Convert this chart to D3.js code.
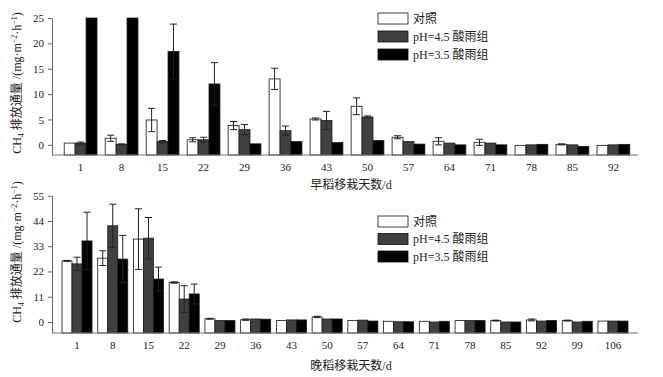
<!DOCTYPE html>
<html>
<head>
<meta charset="utf-8">
<script src="https://cdn.jsdelivr.net/npm/d3@7"></script>
<style>
  body { margin: 0; background: #fff; }
  text { font-family: "Liberation Serif", "Noto Sans CJK SC", serif; }
</style>
</head>
<body>
<div id="chart"></div>
<script>
// series names
const seriesNames = ["对照", "pH=4.5 酸雨组", "pH=3.5 酸雨组"];
const seriesFills = ["#ffffff", "#404040", "#000000"];

// early rice (top panel)
const earlyDays = ["1", "8", "15", "22", "29", "36", "43", "50", "57", "64", "71", "78", "85", "92"];
const earlyControl = [0.35, 1.3, 4.9, 1.0, 3.8, 13.0, 5.1, 7.6, 1.5, 0.7, 0.5, -0.1, 0.1, -0.1];
const earlyPh45 = [0.35, 0.1, 0.65, 1.0, 3.0, 2.8, 4.8, 5.5, 0.65, 0.35, 0.35, 0, 0, 0];
const earlyPh35 = [25, 25, 18.4, 12.0, 0.2, 0.65, 0.45, 0.85, 0.15, 0, 0, 0.1, -0.3, 0.1];
const earlyControlErr = [0, 0.6, 2.3, 0.4, 0.8, 2.1, 0.2, 1.65, 0.3, 0.7, 0.6, 0, 0.1, 0];
const earlyPh45Err = [0.2, 0.1, 0.2, 0.5, 1.0, 0.9, 1.8, 0.2, 0, 0, 0, 0, 0, 0];
const earlyPh35Err = [0, 0, 5.4, 4.2, 0, 0, 0, 0, 0, 0, 0, 0, 0, 0];
const earlyTicks = [0, 5, 10, 15, 20, 25];

// late rice (bottom panel)
const lateDays = ["1", "8", "15", "22", "29", "36", "43", "50", "57", "64", "71", "78", "85", "92", "99", "106"];
const lateControl = [26.6, 27.8, 36.1, 17.2, 1.4, 1.0, 0.6, 2.2, 0.7, 0.3, 0.3, 0.6, 0.6, 0.9, 0.6, 0.4];
const latePh45 = [25.3, 41.9, 36.5, 10.0, 0.6, 1.3, 0.9, 1.3, 0.8, 0.1, 0.0, 0.6, 0.0, 0.4, 0.0, 0.4];
const latePh35 = [35.3, 27.4, 18.7, 12.2, 0.6, 1.2, 0.9, 1.3, 0.4, 0.1, 0.3, 0.6, 0.0, 0.6, 0.3, 0.4];
const lateControlErr = [0.2, 3.2, 13.2, 0.3, 0.2, 0.3, 0, 0.3, 0, 0, 0, 0, 0.2, 0.4, 0.2, 0];
const latePh45Err = [2.9, 9.4, 9.0, 5.8, 0, 0, 0, 0, 0, 0, 0, 0, 0, 0, 0, 0];
const latePh35Err = [12.5, 10.3, 5.2, 4.3, 0, 0, 0, 0, 0, 0, 0, 0, 0, 0, 0, 0];
const lateTicks = [0, 11, 22, 33, 44, 55];

const svg = d3.select("#chart").append("svg")
    .attr("width", 663)
    .attr("height", 377);

function drawPanel(opts) {
    const g = svg.append("g");
    const keys = [0, 1, 2];
    const x = d3.scaleBand()
        .domain(opts.days)
        .range(opts.xRange)
        .paddingInner(opts.padIn)
        .paddingOuter(opts.padOut);
    const xSub = d3.scaleBand()
        .domain(keys)
        .range([0, x.bandwidth()]);
    const y = d3.scaleLinear()
        .domain(opts.yDomain)
        .range(opts.yRange);
    const base = y(opts.yDomain[0]);

    const rows = opts.days.map((d, i) => ({
        day: d,
        items: keys.map(k => ({ k: k, v: opts.values[k][i], e: opts.errors[k][i] }))
    }));

    const group = g.selectAll(".grp")
        .data(rows)
        .join("g")
        .attr("transform", d => `translate(${x(d.day)},0)`);

    group.selectAll("rect")
        .data(d => d.items)
        .join("rect")
        .attr("x", d => xSub(d.k))
        .attr("y", d => y(d.v))
        .attr("width", xSub.bandwidth())
        .attr("height", d => base - y(d.v))
        .attr("fill", d => seriesFills[d.k])
        .attr("stroke", d => d.k === 0 ? "#111" : "#1a1a1a")
        .attr("stroke-width", 0.8);

    // error bars
    const err = group.selectAll(".err")
        .data(d => d.items.filter(it => it.e > 0))
        .join("g")
        .attr("class", "err")
        .attr("stroke", "#222")
        .attr("stroke-width", 1);
    err.append("line")
        .attr("x1", d => xSub(d.k) + xSub.bandwidth() / 2)
        .attr("x2", d => xSub(d.k) + xSub.bandwidth() / 2)
        .attr("y1", d => y(d.v + d.e))
        .attr("y2", d => y(d.v - d.e));
    err.selectAll(".cap")
        .data(d => [d.v + d.e, d.v - d.e].map(v => ({ k: d.k, v: v })))
        .join("line")
        .attr("x1", d => xSub(d.k) + xSub.bandwidth() / 2 - 3.5)
        .attr("x2", d => xSub(d.k) + xSub.bandwidth() / 2 + 3.5)
        .attr("y1", d => y(d.v))
        .attr("y2", d => y(d.v));

    // y axis
    const yAxis = g.append("g")
        .attr("transform", `translate(${opts.axisX},0)`)
        .call(d3.axisLeft(y).tickValues(opts.ticks).tickSize(4).tickSizeOuter(0).tickPadding(4));
    yAxis.select(".domain").attr("stroke", "#666");
    yAxis.selectAll(".tick line").attr("stroke", "#666");
    yAxis.selectAll("text").attr("font-size", "11px").attr("fill", "#222");

    // x axis
    const xAxis = g.append("g")
        .attr("transform", `translate(0,${base})`)
        .call(d3.axisBottom(x).tickSize(0).tickPadding(opts.tickPad));
    xAxis.select(".domain").remove();
    xAxis.selectAll("text").attr("font-size", "11px").attr("fill", "#222");
    g.append("line")
        .attr("x1", opts.axisX)
        .attr("x2", x.range()[1])
        .attr("y1", base)
        .attr("y2", base)
        .attr("stroke", "#777")
        .attr("stroke-width", 1.2);

    // x title
    g.append("text")
        .attr("x", 351)
        .attr("y", opts.xTitleY)
        .attr("text-anchor", "middle")
        .attr("font-size", "12px")
        .attr("fill", "#222")
        .text(opts.xTitle);

    // y title
    const yt = g.append("text")
        .attr("transform", `translate(21,${opts.yTitleY}) rotate(-90)`)
        .attr("text-anchor", "middle")
        .attr("font-size", "12px")
        .attr("fill", "#222");
    yt.append("tspan").text("CH");
    yt.append("tspan").attr("font-size", "8px").attr("dy", 3).text("4");
    yt.append("tspan").attr("dy", -3).text(" 排放通量 /(mg·m");
    yt.append("tspan").attr("font-size", "8px").attr("dy", -4).text("−2");
    yt.append("tspan").attr("dy", 4).text("·h");
    yt.append("tspan").attr("font-size", "8px").attr("dy", -4).text("−1");
    yt.append("tspan").attr("dy", 4).text(")");

    // legend
    const legend = g.append("g")
        .attr("transform", `translate(378,${opts.legendY})`);
    const li = legend.selectAll("g")
        .data(keys)
        .join("g")
        .attr("transform", (d, i) => `translate(0,${i * opts.legendStep})`);
    li.append("rect")
        .attr("width", 30)
        .attr("height", 11)
        .attr("fill", d => seriesFills[d])
        .attr("stroke", "#111")
        .attr("stroke-width", 0.8);
    li.append("text")
        .attr("x", 35)
        .attr("y", 9.5)
        .attr("font-size", "12px")
        .attr("fill", "#222")
        .text(d => seriesNames[d]);
}

drawPanel({
    days: earlyDays,
    values: [earlyControl, earlyPh45, earlyPh35],
    errors: [earlyControlErr, earlyPh45Err, earlyPh35Err],
    ticks: earlyTicks,
    xRange: [56, 638],
    padIn: 0.2,
    padOut: 0.2,
    yDomain: [-2, 25],
    yRange: [155, 18],
    axisX: 52,
    tickPad: 8,
    xTitle: "早稻移栽天数/d",
    xTitleY: 189,
    yTitleY: 83,
    legendY: 13,
    legendStep: 18
});

drawPanel({
    days: lateDays,
    values: [lateControl, latePh45, latePh35],
    errors: [lateControlErr, latePh45Err, latePh35Err],
    ticks: lateTicks,
    xRange: [52, 638],
    padIn: 0.16,
    padOut: 0.28,
    yDomain: [-4.8, 55],
    yRange: [333, 195.7],
    axisX: 52,
    tickPad: 8,
    xTitle: "晚稻移栽天数/d",
    xTitleY: 370,
    yTitleY: 252,
    legendY: 216,
    legendStep: 17.5
});
</script>
</body>
</html>
